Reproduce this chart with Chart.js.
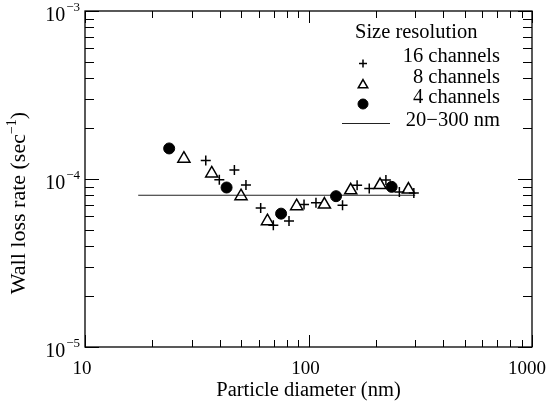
<!DOCTYPE html>
<html>
<head>
<meta charset="utf-8">
<script src="https://cdn.jsdelivr.net/npm/chart.js@4/dist/chart.umd.min.js"></script>
<style>
  html, body { margin: 0; padding: 0; background: #fff; }
  #wrap { width: 549px; height: 403px; }
</style>
</head>
<body>
<div id="wrap"><canvas id="chart-wallloss" width="549" height="403"></canvas></div>
<script>
// 16 channel resolution
const dia16 = [34.7, 39.9, 46.6, 52.5, 61.1, 69.6, 81.8, 95.5, 108, 142, 165, 187, 222, 255, 296];
const rate16 = [1.29e-4, 9.9e-5, 1.13e-4, 9.2e-5, 6.73e-5, 5.31e-5, 5.62e-5, 7.05e-5, 7.21e-5, 6.98e-5, 9.19e-5, 8.77e-5, 9.85e-5, 8.37e-5, 8.26e-5];
// 8 channel resolution
const dia8 = [27.7, 36.9, 49.9, 65.5, 88.5, 117.8, 154.5, 209, 280];
const rate8 = [1.32e-4, 1.08e-4, 7.9e-5, 5.61e-5, 6.89e-5, 7.05e-5, 8.57e-5, 9.2e-5, 8.65e-5];
// 4 channel resolution
const dia4 = [23.8, 43.0, 75.4, 132.8, 235.5];
const rate4 = [1.52e-4, 8.9e-5, 6.22e-5, 7.9e-5, 8.98e-5];
// mean rate over 20-300 nm
const fitDia = [17.3, 300];
const fitRate = [8.0e-5, 8.0e-5];

const xTicks = [10, 100, 1000];
const yTicks = [1e-5, 1e-4, 1e-3];
const legendLabels = ['16 channels', '8 channels', '4 channels', '20\u2212300 nm'];

const FONT = '"Liberation Serif", "Times New Roman", serif';

function pts(xs, ys) {
	return xs.map((x, i) => ({x: x, y: ys[i]}));
}

const datasets = [
	{label: legendLabels[0], data: pts(dia16, rate16), pointStyle: 'cross', pointRadius: 5,
		borderColor: '#000', backgroundColor: '#000', pointBorderWidth: 1.5, showLine: false},
	{label: legendLabels[1], data: pts(dia8, rate8), pointStyle: 'triangle', pointRadius: 7,
		borderColor: '#000', backgroundColor: 'rgba(255,255,255,0)', pointBorderWidth: 1.5, showLine: false},
	{label: legendLabels[2], data: pts(dia4, rate4), pointStyle: 'circle', pointRadius: 5.5,
		borderColor: '#000', backgroundColor: '#000', pointBorderWidth: 1, showLine: false},
	{label: legendLabels[3], data: pts(fitDia, fitRate), pointRadius: 0, borderColor: '#222',
		borderWidth: 1.1, showLine: true, order: 10}
];

// legend symbol sizes (smaller than the plotted marks)
const legendRadius = [4, 5.5, 5];

// frame, inward log ticks, tick labels, titles and legend
const axesPlugin = {
	id: 'axesPlugin',
	afterDraw(chart) {
		const ctx = chart.ctx;
		const a = chart.chartArea;
		const xs = chart.scales.x, ys = chart.scales.y;
		ctx.save();
		ctx.strokeStyle = '#000';
		ctx.fillStyle = '#000';
		ctx.lineWidth = 1.3;
		ctx.strokeRect(a.left, a.top, a.right - a.left, a.bottom - a.top);

		ctx.lineWidth = 1;
		ctx.beginPath();
		for (let d = 10; d < 1000; d *= 10) {
			for (let m = 1; m <= 10; m++) {
				const px = Math.round(xs.getPixelForValue(m * d)) + 0.5;
				const len = (m === 1 || m === 10) ? 12 : 7;
				ctx.moveTo(px, a.bottom); ctx.lineTo(px, a.bottom - len);
				ctx.moveTo(px, a.top); ctx.lineTo(px, a.top + len);
			}
		}
		for (let d = 1e-5; d < 1e-3 * 0.99; d *= 10) {
			for (let m = 1; m <= 10; m++) {
				const py = Math.round(ys.getPixelForValue(m * d)) + 0.5;
				const len = (m === 1 || m === 10) ? 14 : 9;
				ctx.moveTo(a.left, py); ctx.lineTo(a.left + len, py);
				ctx.moveTo(a.right, py); ctx.lineTo(a.right - len, py);
			}
		}
		ctx.stroke();

		// x tick labels, kept inside the canvas
		ctx.font = '19px ' + FONT;
		ctx.textAlign = 'center';
		ctx.textBaseline = 'middle';
		xTicks.forEach(v => {
			const w = ctx.measureText(String(v)).width;
			let px = xs.getPixelForValue(v) - 3;
			px = Math.min(px, chart.width - 3 - w / 2);
			ctx.fillText(String(v), px, a.bottom + 22);
		});

		// y tick labels as 10^n
		yTicks.forEach(v => {
			const py = ys.getPixelForValue(v);
			const exp = '\u2212' + Math.round(-Math.log10(v));
			ctx.font = '13px ' + FONT;
			const ew = ctx.measureText(exp).width;
			ctx.textAlign = 'right';
			ctx.fillText(exp, a.left - 5, py - 3);
			ctx.font = '20px ' + FONT;
			ctx.fillText('10', a.left - 6 - ew, py + 5);
		});

		// axis titles
		ctx.font = '20.5px ' + FONT;
		ctx.textAlign = 'center';
		ctx.fillText('Particle diameter (nm)', (a.left + a.right) / 2, 391);

		ctx.save();
		ctx.translate(19, 203);
		ctx.rotate(-Math.PI / 2);
		const main = 'Wall loss rate (sec';
		ctx.font = '22px ' + FONT;
		const w1 = ctx.measureText(main).width;
		const w3 = ctx.measureText(')').width;
		ctx.font = '14px ' + FONT;
		const w2 = ctx.measureText('\u22121').width;
		let x0 = -(w1 + w2 + w3) / 2;
		ctx.textAlign = 'left';
		ctx.font = '22px ' + FONT;
		ctx.fillText(main, x0, 0);
		ctx.font = '14px ' + FONT;
		ctx.fillText('\u22121', x0 + w1, -7);
		ctx.font = '22px ' + FONT;
		ctx.fillText(')', x0 + w1 + w2, 0);
		ctx.restore();

		// legend
		ctx.font = '20.5px ' + FONT;
		ctx.textAlign = 'left';
		ctx.fillText('Size resolution', 355, 33);
		const textY = [57, 78, 98, 121];
		const markY = [63.5, 85, 104, 123.5];
		ctx.textAlign = 'right';
		datasets.forEach((ds, i) => {
			ctx.fillText(ds.label, 500, textY[i]);
		});
		const H = Chart.helpers;
		for (let i = 0; i < 3; i++) {
			const ds = datasets[i];
			ctx.strokeStyle = ds.borderColor;
			ctx.fillStyle = ds.backgroundColor;
			ctx.lineWidth = ds.pointBorderWidth;
			H.drawPoint(ctx, {pointStyle: ds.pointStyle, radius: legendRadius[i], borderWidth: ds.pointBorderWidth, rotation: 0},
				363, markY[i]);
		}
		ctx.strokeStyle = '#222';
		ctx.lineWidth = 1.1;
		ctx.beginPath();
		ctx.moveTo(342, markY[3]); ctx.lineTo(390, markY[3]);
		ctx.stroke();
		ctx.restore();
	}
};

const ctx = document.getElementById('chart-wallloss');
const chart = new Chart(ctx, {
	type: 'scatter',
	data: {datasets: datasets},
	options: {
		responsive: false,
		animation: false,
		devicePixelRatio: 1,
		layout: {padding: {left: 85, top: 11, right: 17, bottom: 56}},
		plugins: {legend: {display: false}, tooltip: {enabled: false}},
		scales: {
			x: {type: 'logarithmic', min: 10, max: 1000, display: false},
			y: {type: 'logarithmic', min: 1e-5, max: 1e-3, display: false}
		}
	},
	plugins: [axesPlugin]
});
</script>
</body>
</html>
